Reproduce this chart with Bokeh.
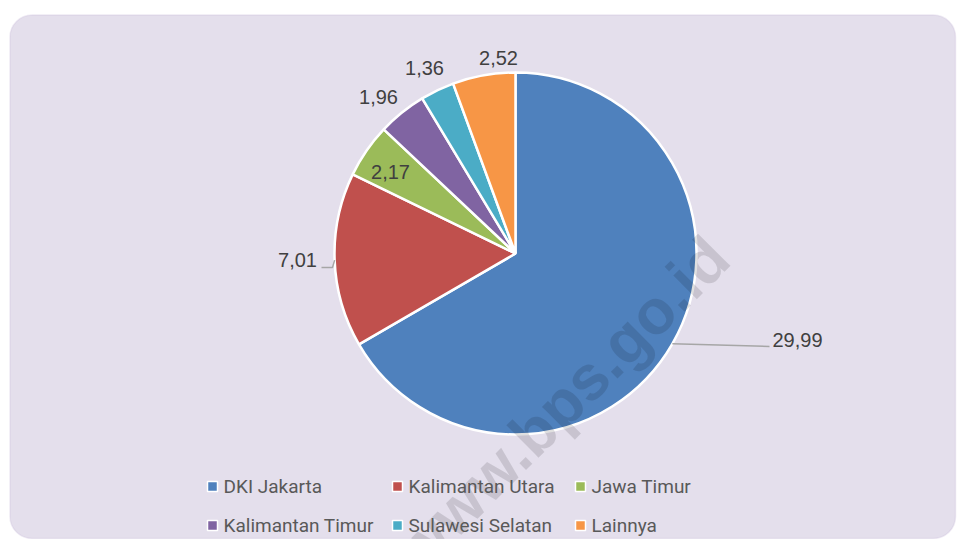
import numpy as np
from bokeh.plotting import figure
from bokeh.models import Range1d, BoxAnnotation, ColumnDataSource
from bokeh.core.properties import value
from bokeh.embed import file_html
from bokeh.resources import INLINE

# ---- data ----
categories = ["DKI Jakarta", "Kalimantan Utara", "Jawa Timur",
              "Kalimantan Timur", "Sulawesi Selatan", "Lainnya"]
values = [29.99, 7.01, 2.17, 1.96, 1.36, 2.52]
colors = ["#4F81BD", "#C0504D", "#9BBB59", "#8064A2", "#4BACC6", "#F79646"]

# ---- layout (picture pixel coords) ----
W, H = 957, 539
def X(x): return x
def Y(y): return H - y

center_page = (515, 253)
radius = 181
label_pos = [(797, 339), (297, 259), (390, 171), (378, 96), (424, 67), (498, 57)]
leader_pts = {0: [(769, 346)], 1: [(332, 267), (321, 267)]}
legend_cols = [212, 397, 580]
legend_rows = [486, 525]

p = figure(width=W, height=H, x_range=Range1d(0, W), y_range=Range1d(0, H),
           output_backend="svg", toolbar_location=None,
           x_axis_location=None, y_axis_location=None, min_border=0,
           outline_line_color=None, background_fill_color="white",
           border_fill_color="white")
p.xgrid.visible = False
p.ygrid.visible = False

# rounded panel
p.add_layout(BoxAnnotation(left=X(9.5), right=X(955), top=Y(14.5), bottom=Y(538),
                           border_radius=22, fill_color="#E4DFEC", fill_alpha=1,
                           line_color="#C9BEDC", line_width=1.5, level="underlay"))

# pie
vals = np.array(values)
fr = vals / vals.sum()
ang = 2 * np.pi * fr
starts = np.pi / 2 - np.concatenate([[0], np.cumsum(ang)[:-1]])
ends = starts - ang
mids = (starts + ends) / 2
cx, cy = X(center_page[0]), Y(center_page[1])

src = ColumnDataSource(dict(start=starts, end=ends, color=colors, cat=categories))
p.wedge(x=cx, y=cy, radius=radius, start_angle="start", end_angle="end",
        direction="clock", fill_color="color", line_color="white", line_width=2.5,
        source=src)

# leader lines
for i, pts in leader_pts.items():
    ex = cx + radius * np.cos(mids[i])
    ey = cy + radius * np.sin(mids[i])
    xs = [ex] + [X(a) for a, b in pts]
    ys = [ey] + [Y(b) for a, b in pts]
    p.line(xs, ys, line_color="#A6A6A6", line_width=1.5)

# data labels
labels = [f"{v:.2f}".replace(".", ",") for v in values]
p.text(x=[X(a) for a, b in label_pos], y=[Y(b) for a, b in label_pos], text=labels,
       text_align="center", text_baseline="middle", text_font=value("Liberation Sans"),
       text_font_size="20px", text_color="#404040")

# watermark
p.text(x=[X(561)], y=[Y(403)], text=["www.bps.go.id"], angle=np.deg2rad(45),
       text_align="center", text_baseline="alphabetic",
       text_font=value("Liberation Sans"), text_font_style="bold",
       text_font_size="63px", text_color="black", text_alpha=0.12)

# legend
lx, ly = [], []
for i, c in enumerate(categories):
    r, k = divmod(i, 3)
    lx.append(X(legend_cols[k]))
    ly.append(Y(legend_rows[r]))
p.scatter(x=lx, y=ly, marker="square", size=10, fill_color=colors,
          line_color="white", line_width=1.5)
p.text(x=[x + 11 for x in lx], y=ly, text=categories, text_align="left",
       text_baseline="middle", text_font=value("Roboto"),
       text_font_size="19px", text_color="#595959")

open("out.html", "w").write(file_html(p, INLINE))
